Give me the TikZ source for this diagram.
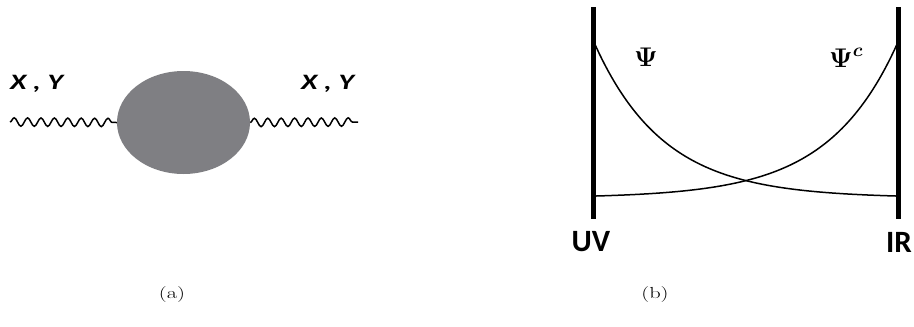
\RequirePackage{fix-cm}
\documentclass[tikz,border=0pt]{standalone}
\usepackage{fontspec}
\usepackage{amsmath}
\usetikzlibrary{shapes.geometric,decorations.pathmorphing}
\newfontfamily\calib{Carlito}
\begin{document}
\begin{tikzpicture}[x=1pt,y=-1pt,
  wave/.style={line width=1.5pt,decorate,decoration={snake,segment length=13.4pt,amplitude=4.2pt}},
  wall/.style={line width=5pt},
  curve/.style={line width=1.5pt},
  xylab/.style={font=\calib\bfseries\itshape\fontsize{22}{22}\selectfont,inner sep=0pt,xscale=1.35,transform shape},
  endlab/.style={font=\calib\bfseries\fontsize{31}{31}\selectfont,inner sep=0pt},
  psilab/.style={font=\fontsize{27}{27}\selectfont,inner sep=0pt},
  caplab/.style={font=\fontsize{16}{16}\selectfont,inner sep=0pt,xscale=1.4,transform shape}]
\useasboundingbox (0,0) rectangle (914,327);
\definecolor{blobgray}{RGB}{127,127,131}
% (a)
\node[ellipse,fill=blobgray,minimum width=133pt,minimum height=103pt,inner sep=0pt] (blob) at (183.5,122.5) {};
\coordinate (wl) at (10,122);
\coordinate (wr) at (358,122);
\draw[wave] (wl) -- (blob.west);
\draw[wave] (blob.east) -- (wr);
\node[xylab] (xyl) at (36.5,84) {X , Y};
\node[xylab] (xyr) at (327.5,84) {X , Y};
\node[caplab] (capa) at (172,295) {(a)};
% (b)
\coordinate (uvt) at (593,7);
\coordinate (uvb) at (593,219);
\coordinate (irt) at (898,7);
\coordinate (irb) at (898,219);
\draw[wall] (uvt) -- (uvb);
\draw[wall] (irt) -- (irb);
\draw[curve] plot[domain=0:1,samples=100] ({593+305*\x},{198-158*exp(-4.4*\x)});
\draw[curve] plot[domain=0:1,samples=100] ({593+305*\x},{198-156*exp(-4.4*(1-\x))});
\node[psilab] (psi) at (646,57.5) {$\boldsymbol{\Psi}$};
\node[psilab,anchor=west] (psic) at (829,57.5) {$\boldsymbol{\Psi}^{\boldsymbol{c}}$};
\node[endlab] (uv) at (591,242) {UV};
\node[endlab] (ir) at (899,242) {IR};
\node[caplab] (capb) at (655,295) {(b)};
\end{tikzpicture}
\end{document}
